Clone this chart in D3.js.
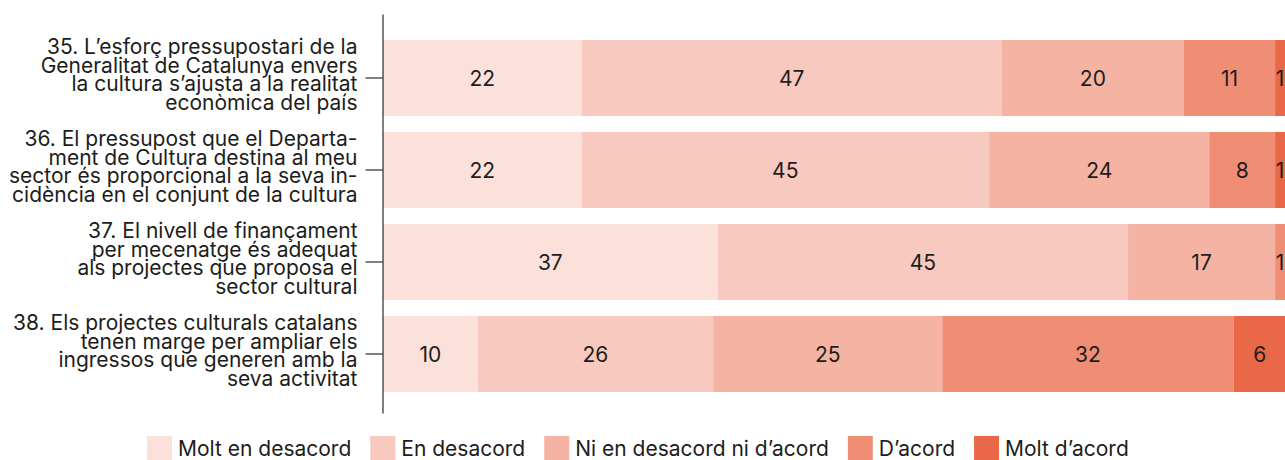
<!DOCTYPE html>
<html>
<head>
<meta charset="utf-8">
<script src="https://cdn.jsdelivr.net/npm/d3@7"></script>
<style>
	body { margin: 0; background: #fff; }
	svg text { font-family: Inter, sans-serif; fill: #1d1d1b; }
</style>
</head>
<body>
<script>
	// question labels, already broken in lines as in the original
	var questions = [
		["35. L’esforç pressupostari de la", "Generalitat de Catalunya envers", "la cultura s’ajusta a la realitat", "econòmica del país"],
		["36. El pressupost que el Departa-", "ment de Cultura destina al meu", "sector és proporcional a la seva in-", "cidència en el conjunt de la cultura"],
		["37. El nivell de finançament", "per mecenatge és adequat", "als projectes que proposa el", "sector cultural"],
		["38. Els projectes culturals catalans", "tenen marge per ampliar els", "ingressos que generen amb la", "seva activitat"]
	];
	var categories = ["Molt en desacord", "En desacord", "Ni en desacord ni d’acord", "D’acord", "Molt d’acord"];

	// % per question (bar widths)
	var moltDesacord = [22.0, 22.0, 37.1, 10.5];
	var desacord     = [46.6, 45.2, 45.5, 26.1];
	var niNi         = [20.2, 24.4, 16.3, 25.4];
	var acord        = [10.1, 7.3, 1.1, 32.3];
	var moltAcord    = [1.1, 1.1, 0, 5.8];

	// numbers printed on the bars
	var moltDesacordLbl = [22, 22, 37, 10];
	var desacordLbl     = [47, 45, 45, 26];
	var niNiLbl         = [20, 24, 17, 25];
	var acordLbl        = [11, 8, 1, 32];
	var moltAcordLbl    = [1, 1, null, 6];

	var colors = ["#fce0da", "#f8c9bf", "#f5b4a3", "#f08e75", "#e96847"];

	var series = [moltDesacord, desacord, niNi, acord, moltAcord];
	var seriesLbl = [moltDesacordLbl, desacordLbl, niNiLbl, acordLbl, moltAcordLbl];

	var w = 1285;
	var h = 460;

	var rows = questions.map(function(q, i) {
		var r = { id: i };
		categories.forEach(function(c, j) { r[c] = series[j][i]; });
		return r;
	});

	var stacked = d3.stack().keys(categories)(rows);

	var svg = d3.select("body").append("svg")
		.attr("width", w)
		.attr("height", h);

	var x = d3.scaleLinear()
		.domain([0, 100])
		.range([383, 1285]);

	var y = d3.scaleBand()
		.domain(d3.range(questions.length))
		.range([14, 413])
		.paddingInner(16 / 92)
		.paddingOuter(0.2554)
		.align(0.553);

	var layers = svg.selectAll("g.layer")
		.data(stacked)
		.enter()
		.append("g")
		.attr("class", "layer")
		.attr("fill", function(d, i) { return colors[i]; });

	layers.selectAll("rect")
		.data(function(d) { return d; })
		.enter()
		.append("rect")
		.attr("x", function(d) { return x(d[0]); })
		.attr("y", function(d) { return y(d.data.id); })
		.attr("width", function(d) { return x(d[1]) - x(d[0]); })
		.attr("height", y.bandwidth());

	layers.each(function(layer, k) {
		d3.select(this).selectAll("text")
			.data(layer.filter(function(d) { return seriesLbl[k][d.data.id] != null; }))
			.enter()
			.append("text")
			.text(function(d) { return seriesLbl[k][d.data.id]; })
			.attr("x", function(d) { return (x(d[0]) + x(d[1])) / 2; })
			.attr("y", function(d) { return y(d.data.id) + y.bandwidth() / 2; })
			.attr("dy", "0.36em")
			.attr("text-anchor", "middle")
			.attr("font-size", "21px");
	});

	// y axis with multi-line labels
	var yAxis = d3.axisLeft(y)
		.tickSize(17)
		.tickSizeOuter(0)
		.tickPadding(8)
		.tickFormat("");

	var gy = svg.append("g")
		.attr("transform", "translate(382.5,0)")
		.call(yAxis);
	gy.select(".domain").attr("stroke", "#000");
	gy.selectAll(".tick line").attr("stroke", "#000");

	var lh = 18.6;
	gy.selectAll(".tick text").remove();
	gy.selectAll(".tick").append("text")
		.attr("x", -25)
		.attr("text-anchor", "end")
		.attr("font-size", "21px")
		.attr("fill", "#1d1d1b")
		.each(function(d) {
			var t = d3.select(this);
			questions[d].forEach(function(line, i) {
				t.append("tspan")
					.attr("x", -25)
					.attr("y", -24 + i * lh)
					.text(line);
			});
		});

	// legend
	var legend = svg.append("g").attr("transform", "translate(147,436)");
	var lx = 0;
	categories.forEach(function(c, i) {
		var item = legend.append("g").attr("transform", "translate(" + lx + ",0)");
		item.append("rect")
			.attr("width", 25)
			.attr("height", 24)
			.attr("fill", colors[i]);
		var t = item.append("text")
			.attr("x", 31)
			.attr("y", 20)
			.attr("font-size", "21px")
			.text(c);
		lx += 31 + t.node().getComputedTextLength() + 19;
	});
</script>
</body>
</html>
